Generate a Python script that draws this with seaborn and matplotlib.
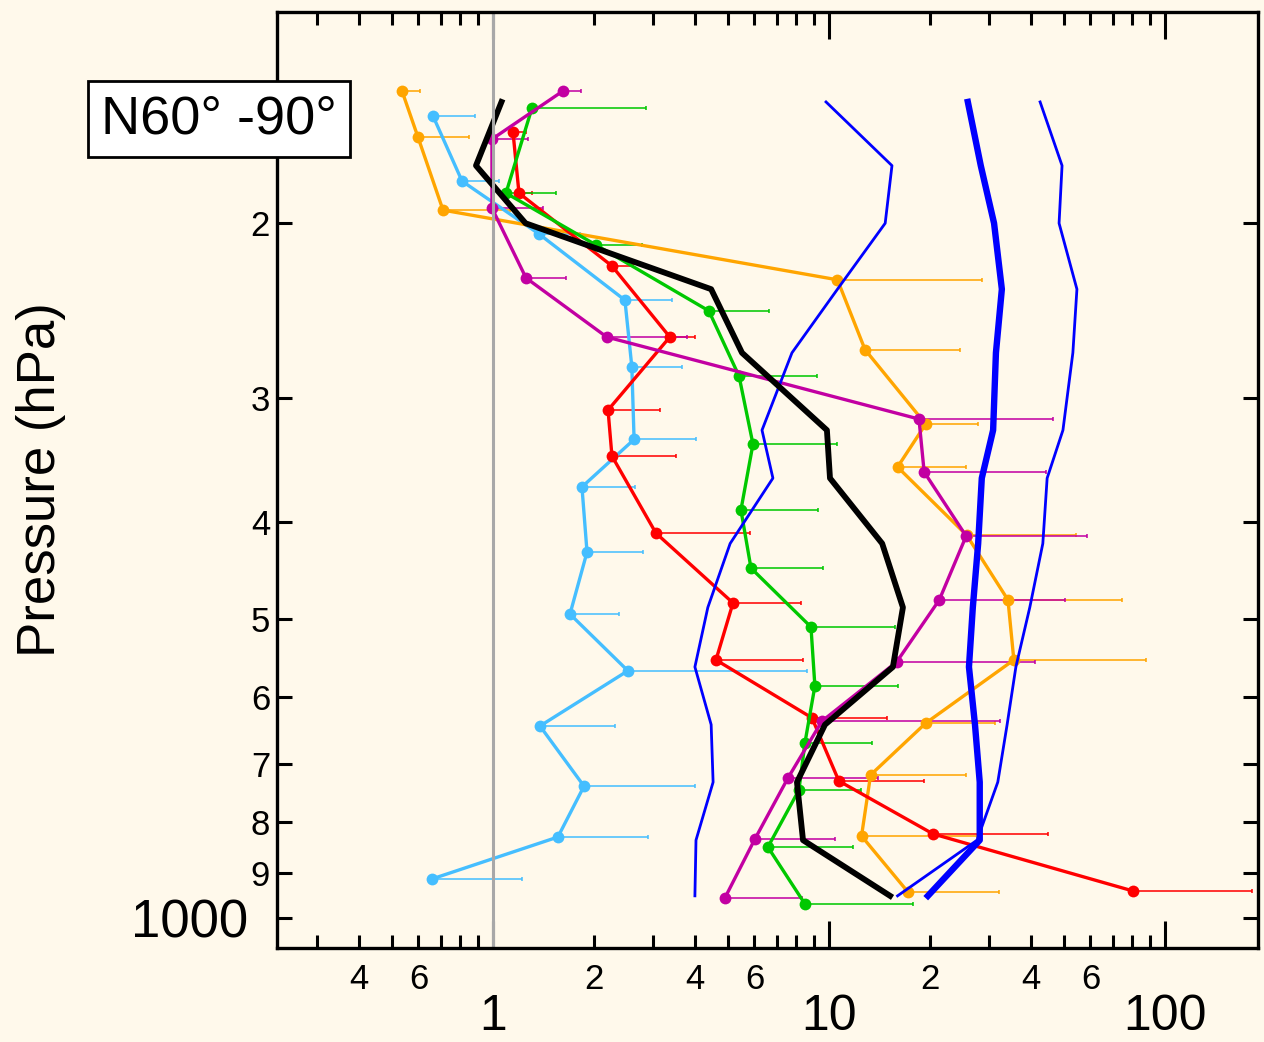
import numpy as np
import pandas as pd
import matplotlib
matplotlib.use("Agg")
import matplotlib.pyplot as plt
from matplotlib.ticker import FixedLocator, FuncFormatter
import seaborn as sns

plt.rcParams["font.family"] = ["Liberation Sans", "DejaVu Sans"]

BG = "#FFF9EB"

# ---- mean profile and envelope (pressure levels in hPa) ----
p_mean = [151, 175, 200, 233, 270, 323, 361, 420, 487, 559, 639, 730, 835, 950]
mean_black = [1.06, 0.89, 1.25, 4.46, 5.51, 9.86, 10.07, 14.4, 16.6, 15.5, 9.73, 8.03, 8.37, 15.2]
blue_low = [9.8, 15.4, 14.7, 10.6, 7.76, 6.32, 6.81, 5.08, 4.36, 3.99, 4.46, 4.52, 4.02, 3.99]
blue_mid = [25.9, 28.3, 31.0, 32.7, 31.4, 30.8, 28.5, 27.8, 26.8, 26.1, 27.2, 28.1, 28.1, 19.7]
blue_high = [42.5, 49.4, 48.4, 54.7, 53.2, 49.7, 44.6, 43.3, 39.6, 36.0, 33.9, 31.8, 27.6, 16.0]

# ---- individual profiles: value, pressure, upper end of error bar ----
orange_p = [147.2, 163.8, 194, 228, 268, 318.5, 351.8, 412, 478.6, 550, 636.8, 718, 827, 942]
orange_x = [0.536, 0.598, 0.710, 10.6, 12.8, 19.4, 16.0, 25.7, 34.1, 35.5, 19.4, 13.3, 12.5, 17.2]
orange_hi = [0.606, 0.848, 1.124, 28.5, 24.5, 27.8, 25.6, 54.3, 74.5, 87.8, 31.2, 25.6, 27.6, 32.1]

skyblue_p = [156, 181.4, 205, 239, 279, 330, 368.4, 428.4, 494.6, 564, 641, 736.9, 829, 913.6]
skyblue_x = [0.663, 0.809, 1.37, 2.47, 2.59, 2.63, 1.84, 1.905, 1.695, 2.52, 1.38, 1.866, 1.56, 0.658]
skyblue_hi = [0.884, 1.042, 1.815, 3.41, 3.65, 4.02, 2.65, 2.80, 2.37, 8.60, 2.31, 3.99, 2.89, 1.22]

red_p = [161.9, 186.5, 220.8, 260.3, 308.3, 343, 410, 482, 550, 629, 728, 823, 939.3]
red_x = [1.147, 1.195, 2.26, 3.36, 2.2, 2.26, 3.055, 5.18, 4.61, 8.9, 10.7, 20.4, 80.3]
red_hi = [1.254, 1.306, 2.61, 3.99, 3.14, 3.50, 5.82, 8.25, 8.37, 14.9, 19.2, 44.9, 181.5]

green_p = [153.2, 186.5, 210.4, 245, 285, 333.6, 388.6, 444.6, 509.6, 584.3, 666.7, 743.4, 848.5, 968]
green_x = [1.306, 1.093, 2.03, 4.39, 5.4, 5.94, 5.47, 5.86, 8.84, 9.08, 8.48, 8.14, 6.58, 8.48]
green_hi = [2.85, 1.54, 2.78, 6.63, 9.21, 10.6, 9.27, 9.60, 15.7, 16.0, 13.4, 12.45, 11.8, 17.8]

magenta_p = [147.2, 164.6, 193.1, 227, 260.3, 314.8, 355.9, 412.8, 478.6, 552.6, 633.8, 723, 832.8, 954.7]
magenta_x = [1.616, 0.993, 0.993, 1.254, 2.18, 18.53, 19.2, 25.6, 21.3, 15.9, 9.53, 7.55, 6.02, 4.9]
magenta_hi = [1.83, 1.27, 1.41, 1.65, 3.78, 46.4, 44.2, 58.6, 50.4, 41.0, 32.3, 14.0, 10.4, 8.31]

# axis ticks and labels
x_major = [1, 10, 100]
x_minor = [m * d for d in (0.1, 1, 10) for m in range(2, 10) if m * d > 0.25]
x_minor_labelled = {0.4: "4", 0.6: "6", 2: "2", 4: "4", 6: "6", 20: "2", 40: "4", 60: "6"}
y_major = [200, 300, 400, 500, 600, 700, 800, 900]
y_major_labels = ["2", "3", "4", "5", "6", "7", "8", "9"]
y_bottom_label = "1000"

fig = plt.figure(figsize=(12.64, 10.42), dpi=100, facecolor=BG)
ax = fig.add_axes([277 / 1264, 1 - 948 / 1042, 981 / 1264, 936 / 1042])
ax.set_facecolor(BG)
ax.set_xscale("log")
ax.set_yscale("log")

profiles = [
    (skyblue_x, skyblue_p, skyblue_hi, "#45BEFF"),
    (orange_x, orange_p, orange_hi, "#FFA500"),
    (red_x, red_p, red_hi, "#FF0000"),
    (green_x, green_p, green_hi, "#00C800"),
    (magenta_x, magenta_p, magenta_hi, "#C200A2"),
]
for xs, ps, his, col in profiles:
    df = pd.DataFrame({"value": xs, "pressure": ps, "hi": his})
    err = np.vstack([np.zeros(len(df)), df["hi"] - df["value"]])
    ax.errorbar(df["value"], df["pressure"], xerr=err, fmt="none", ecolor=col,
                elinewidth=1.4, capsize=1.6, capthick=1.4, alpha=0.8, zorder=2)
    sns.lineplot(data=df, x="value", y="pressure", sort=False, estimator=None,
                 color=col, linewidth=2.4, marker="o", markersize=8.5,
                 markeredgewidth=0, ax=ax, zorder=3)

env = pd.DataFrame({"pressure": p_mean, "low": blue_low, "mid": blue_mid,
                    "high": blue_high, "mean": mean_black})
sns.lineplot(data=env, x="low", y="pressure", sort=False, estimator=None,
             color="#0000FF", linewidth=2.0, ax=ax, zorder=4)
sns.lineplot(data=env, x="high", y="pressure", sort=False, estimator=None,
             color="#0000FF", linewidth=2.0, ax=ax, zorder=4)
sns.lineplot(data=env, x="mid", y="pressure", sort=False, estimator=None,
             color="#0000FF", linewidth=4.6, ax=ax, zorder=4)
sns.lineplot(data=env, x="mean", y="pressure", sort=False, estimator=None,
             color="black", linewidth=4.2, ax=ax, zorder=5)

ax.axvline(1, color="#A8A8A8", linewidth=2.2, zorder=6)

ax.set_xlim(0.2276, 189.2)
ax.set_ylim(1072, 122.6)
ax.set_xlabel("")
ax.set_ylabel("")

ax.xaxis.set_major_locator(FixedLocator(x_major))
ax.xaxis.set_minor_locator(FixedLocator(x_minor))
ax.xaxis.set_major_formatter(FuncFormatter(lambda v, pos: f"{v:g}"))
ax.xaxis.set_minor_formatter(FuncFormatter(
    lambda v, pos: next((s for k, s in x_minor_labelled.items() if abs(k - v) < 1e-6 * max(1, v)), "")))

ax.yaxis.set_major_locator(FixedLocator(y_major))
ax.yaxis.set_major_formatter(FuncFormatter(
    lambda v, pos: y_major_labels[y_major.index(int(round(v)))] if int(round(v)) in y_major else ""))
ax.yaxis.set_minor_locator(FixedLocator([1000]))
ax.yaxis.set_minor_formatter(FuncFormatter(lambda v, pos: y_bottom_label))

ax.tick_params(axis="x", which="major", direction="in", length=19.5, width=2.2,
               labelsize=36, pad=33, top=True, color="black")
ax.tick_params(axis="x", which="minor", direction="in", length=9.5, width=2.2,
               labelsize=25, pad=11, top=True, color="black")
ax.tick_params(axis="y", which="major", direction="in", length=11, width=2.2,
               labelsize=25, pad=5, right=True)
ax.tick_params(axis="y", which="minor", direction="in", length=11, width=2.2,
               labelsize=38, pad=21, right=True)

for s in ax.spines.values():
    s.set_linewidth(2.4)
    s.set_color("black")
    s.set_zorder(7)

fig.text(41 / 1264, 1 - 480 / 1042, "Pressure (hPa)", rotation=90,
         ha="center", va="center", fontsize=38)

fig.text(219 / 1264, 1 - 119 / 1042, "N60° -90°", ha="center", va="center",
         fontsize=39, zorder=10,
         bbox=dict(boxstyle="square,pad=0.24", facecolor="white",
                   edgecolor="black", linewidth=2.0))

fig.savefig("out.png", dpi=100, facecolor=BG)
